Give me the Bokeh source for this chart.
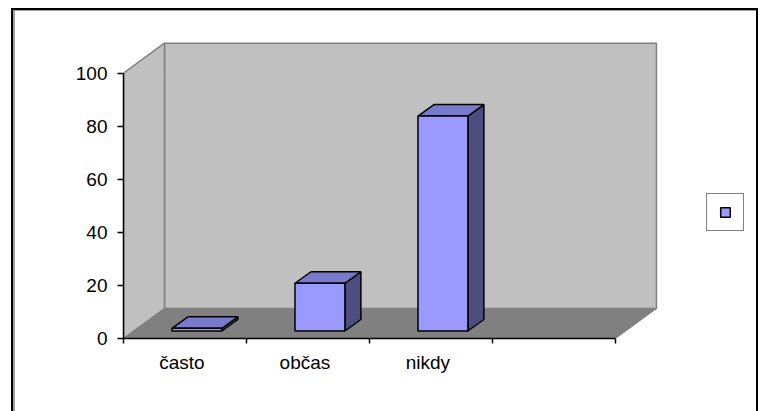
from bokeh.plotting import figure
from bokeh.models import (Range1d, FixedTicker, Legend, LegendItem, ColumnDataSource,
                          InlineStyleSheet)
from bokeh.core.properties import value
from bokeh.embed import file_html
from bokeh.resources import INLINE

# ---- data ----
categories = ["často", "občas", "nikdy", ""]
values = [1, 18, 81]
y_ticks = [0, 20, 40, 60, 80, 100]

# ---- geometry / style constants ----
N_SLOTS = len(categories)
Y_MAX = 100
WALL_DX, WALL_DY = 0.333, 11.3      # depth of the 3D floor / walls (data units)
BAR_OFF, BAR_W = 0.394, 0.406       # bar front face offset & width inside a slot
BAR_LIFT = 2.83                     # bar front sits slightly back on the floor
BAR_DX, BAR_DY = 0.13, 4.33         # bar depth
LABEL_POS = 0.475                   # category label position inside a slot

FRONT = "#9999FF"
TOP = "#7A7ACC"
SIDE = "#4D4D80"
WALL = "#C0C0C0"
FLOOR = "#808080"
EDGE = "#808080"
FONT = "Liberation Sans"

p = figure(width=762, height=411, output_backend="svg", toolbar_location=None,
           x_range=Range1d(0, 5.187), y_range=Range1d(0, 126.27),
           min_border_left=123, min_border_right=1, min_border_top=3,
           min_border_bottom=73)
p.grid.visible = False
p.outline_line_color = None
p.background_fill_color = "white"
p.border_fill_color = "white"

# chart-area border drawn by CSS on top of the canvas (black with gray inner line)
border_css = """
:host::after {
  content: "";
  position: absolute;
  left: 11px; top: 8px;
  width: 747px; height: 403px;
  box-sizing: border-box;
  border: 2px solid #000000;
  border-bottom: none;
  box-shadow: inset 2px 1px 0 0 #a0a0a0;
  pointer-events: none;
  z-index: 10;
}
"""
p.stylesheets = [InlineStyleSheet(css=border_css)]

# back wall
p.patch([WALL_DX, N_SLOTS + WALL_DX, N_SLOTS + WALL_DX, WALL_DX],
        [WALL_DY, WALL_DY, Y_MAX + WALL_DY, Y_MAX + WALL_DY],
        fill_color=WALL, line_color=EDGE, line_width=1.5)
# left side wall
p.patch([0, WALL_DX, WALL_DX, 0],
        [0, WALL_DY, Y_MAX + WALL_DY, Y_MAX],
        fill_color=WALL, line_color=EDGE, line_width=1.5)
# floor
p.patch([0, N_SLOTS, N_SLOTS + WALL_DX, WALL_DX],
        [0, 0, WALL_DY, WALL_DY],
        fill_color=FLOOR, line_color=FLOOR, line_width=1)

# bars
x0 = [i + BAR_OFF for i in range(len(values))]
x1 = [x + BAR_W for x in x0]
y0 = [BAR_LIFT for _ in values]
y1 = [BAR_LIFT + v for v in values]

side_xs = [[a, a + BAR_DX, a + BAR_DX, a] for a in x1]
side_ys = [[b, b + BAR_DY, t + BAR_DY, t] for b, t in zip(y0, y1)]
top_xs = [[l, r, r + BAR_DX, l + BAR_DX] for l, r in zip(x0, x1)]
top_ys = [[t, t, t + BAR_DY, t + BAR_DY] for t in y1]

p.patches(side_xs, side_ys, fill_color=SIDE, line_color="black", line_width=1.5)
p.patches(top_xs, top_ys, fill_color=TOP, line_color="black", line_width=1.5)
src = ColumnDataSource(dict(left=x0, right=x1, bottom=y0, top=y1))
front = p.quad(left="left", right="right", bottom="bottom", top="top", source=src,
               fill_color=FRONT, line_color="black", line_width=1.5)

# y axis
ya = p.yaxis[0]
ya.ticker = FixedTicker(ticks=y_ticks)
ya.bounds = (0, Y_MAX)
ya.major_tick_out = 6
ya.major_tick_in = 0
ya.minor_tick_out = 0
ya.minor_tick_in = 0
ya.major_label_standoff = 10
ya.axis_line_width = 1.5
ya.major_tick_line_width = 1.5
ya.axis_line_color = "black"
ya.major_label_text_font = FONT
ya.major_label_text_font_size = "19px"
ya.major_label_text_color = "black"

# x axis: labels inside slots, tick marks at slot boundaries
xa = p.xaxis[0]
centres = [i + LABEL_POS for i in range(N_SLOTS)]
xa.ticker = FixedTicker(ticks=centres, minor_ticks=list(range(N_SLOTS + 1)))
xa.major_label_overrides = {c: lab for c, lab in zip(centres, categories)}
xa.bounds = (0, N_SLOTS)
xa.major_tick_out = 0
xa.major_tick_in = 0
xa.minor_tick_out = 5
xa.minor_tick_in = 0
xa.minor_tick_line_width = 1.5
xa.minor_tick_line_color = "black"
xa.major_label_standoff = 8
xa.axis_line_width = 1.5
xa.axis_line_color = "black"
xa.major_label_text_font = FONT
xa.major_label_text_font_size = "19px"
xa.major_label_text_color = "black"

legend = Legend(items=[LegendItem(label=value(" "), renderers=[front])],
                location=(583, 107), glyph_width=12, glyph_height=12, padding=12,
                label_standoff=0, label_width=0, label_height=12,
                label_text_font_size="1px", spacing=0, margin=0,
                border_line_color="black", border_line_width=1.5,
                background_fill_color="white", background_fill_alpha=1.0)
p.add_layout(legend)

open("out.html", "w").write(file_html(p, INLINE))
